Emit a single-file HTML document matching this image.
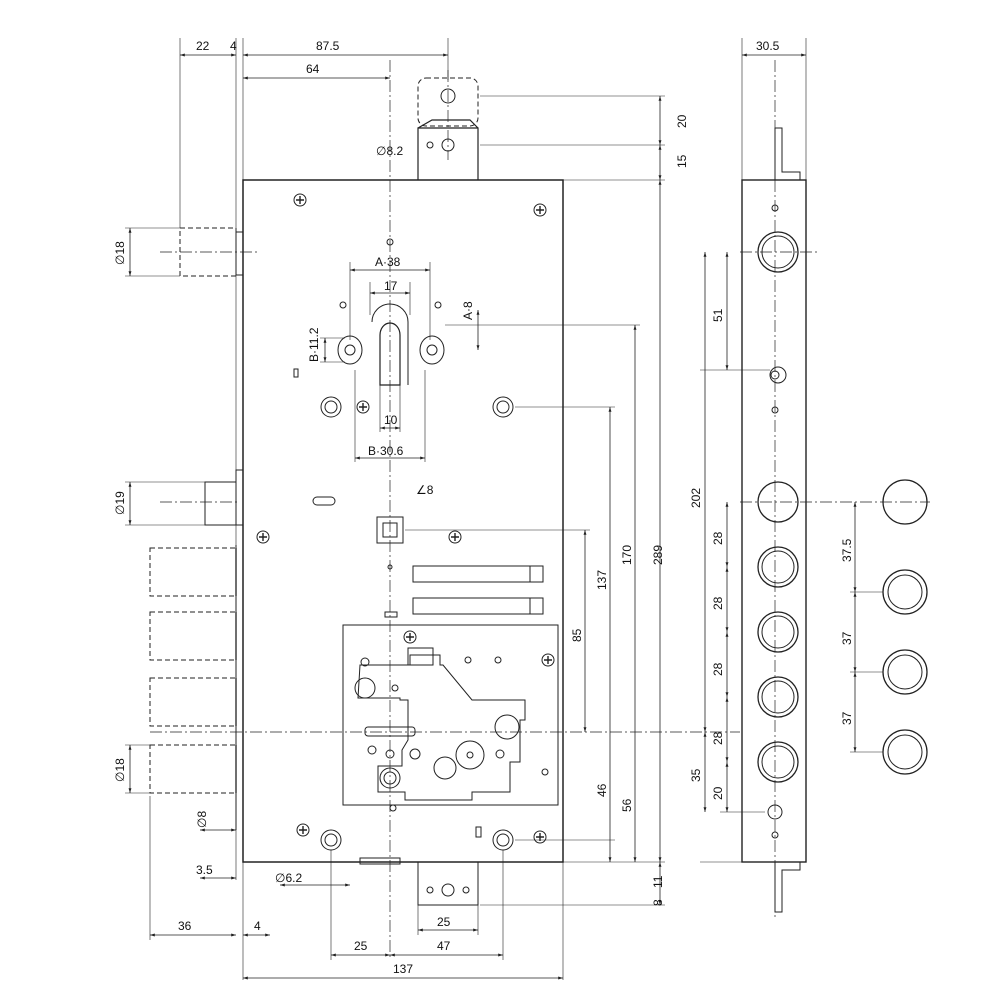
<!DOCTYPE html><html><head><style>body{margin:0;background:#fff}svg{display:block}text{font-family:"Liberation Sans",sans-serif;font-size:12px;fill:#111}</style></head><body>
<svg width="1000" height="1000" viewBox="0 0 1000 1000" xmlns="http://www.w3.org/2000/svg" stroke="#222" fill="none" stroke-width="1">
<defs><marker id="a" viewBox="0 0 10 10" refX="10" refY="5" markerWidth="6" markerHeight="6" orient="auto-start-reverse"><path d="M0,2L10,5L0,8z" fill="#222" stroke="none"/></marker></defs>
<!-- center lines -->
<g stroke-dasharray="12,3,2,3" stroke-width="0.7">
<line x1="390" y1="60" x2="390" y2="960"/><line x1="448" y1="70" x2="448" y2="160"/>
<line x1="150" y1="732" x2="740" y2="732"/><line x1="775" y1="60" x2="775" y2="920"/>
<line x1="160" y1="252" x2="260" y2="252"/><line x1="160" y1="502" x2="240" y2="502"/>
<line x1="740" y1="252" x2="820" y2="252"/><line x1="740" y1="502" x2="930" y2="502"/>
</g>
<!-- main body -->
<rect x="243" y="180" width="320" height="682" stroke-width="1.5"/>
<polyline points="243,180 243,232 236,232 236,275 243,275"/>
<polyline points="243,470 236,470 236,525 243,525"/>
<line x1="236" y1="545" x2="236" y2="830"/>
<path d="M418,180V128H478V180M418,128L432,120H470L478,128" stroke-width="1.2"/>
<rect x="418" y="78" width="60" height="48" stroke-dasharray="5,3" rx="8"/>
<circle cx="448" cy="96" r="7"/><circle cx="448" cy="145" r="6"/><circle cx="430" cy="145" r="3"/>
<path d="M418,862V905H478V862"/><circle cx="448" cy="890" r="6"/><circle cx="430" cy="890" r="3"/><circle cx="466" cy="890" r="3"/>
<rect x="360" y="858" width="40" height="6"/>
<!-- bolts left -->
<rect x="180" y="228" width="56" height="48" stroke-dasharray="5,3"/>
<path d="M236,482H205V525H236"/>
<g stroke-dasharray="5,3"><rect x="150" y="548" width="86" height="48"/><rect x="150" y="612" width="86" height="48"/><rect x="150" y="678" width="86" height="48"/><rect x="150" y="745" width="86" height="48"/></g>
<g stroke-width="1.3"><line x1="236" y1="548" x2="236" y2="596"/><line x1="236" y1="612" x2="236" y2="660"/><line x1="236" y1="678" x2="236" y2="726"/><line x1="236" y1="745" x2="236" y2="793"/></g>
<!-- screws -->
<g><circle cx="300" cy="200" r="6"/><circle cx="540" cy="210" r="6"/><circle cx="263" cy="537" r="6"/><circle cx="455" cy="537" r="6"/><circle cx="363" cy="407" r="6"/><circle cx="410" cy="637" r="6"/><circle cx="303" cy="830" r="6"/><circle cx="540" cy="837" r="6"/><circle cx="548" cy="660" r="6"/></g>
<g stroke-width="1.4"><path d="M296,200h8M300,196v8M536,210h8M540,206v8M259,537h8M263,533v8M451,537h8M455,533v8M359,407h8M363,403v8M406,637h8M410,633v8M299,830h8M303,826v8M536,837h8M540,833v8M544,660h8M548,656v8"/></g>
<circle cx="331" cy="407" r="10"/><circle cx="331" cy="407" r="6"/><circle cx="503" cy="407" r="10"/><circle cx="503" cy="407" r="6"/>
<circle cx="331" cy="840" r="10"/><circle cx="331" cy="840" r="6"/><circle cx="503" cy="840" r="10"/><circle cx="503" cy="840" r="6"/>
<!-- cylinder area -->
<path d="M380,385V335A10,12 0 0 1 400,335V385z" stroke-width="1.2"/>
<path d="M372,322A18,18 0 0 1 408,322V385" /><circle cx="390" cy="242" r="3"/>
<path d="M338,350a12,14 0 1 1 24,0 12,14 0 1 1 -24,0"/><circle cx="350" cy="350" r="5"/>
<path d="M420,350a12,14 0 1 1 24,0 12,14 0 1 1 -24,0"/><circle cx="432" cy="350" r="5"/>
<circle cx="343" cy="305" r="3"/><circle cx="438" cy="305" r="3"/>
<rect x="294" y="369" width="4" height="8"/>
<rect x="313" y="497" width="22" height="8" rx="4"/>
<rect x="377" y="517" width="26" height="26"/><rect x="383" y="523" width="14" height="14"/>
<circle cx="390" cy="567" r="2"/>
<rect x="413" y="566" width="130" height="16"/><rect x="413" y="598" width="130" height="16"/>
<line x1="530" y1="566" x2="530" y2="582"/><line x1="530" y1="598" x2="530" y2="614"/>
<rect x="385" y="612" width="12" height="5"/>
<!-- gearbox -->
<rect x="343" y="625" width="215" height="180"/>
<path d="M360,665H410V655H440V665H443L472,700H525V720H520V762H510V792H472V800H405V792H378V766L402,766V750L408,740V700H400V698H358z"/>
<rect x="408" y="648" width="25" height="17"/>
<circle cx="365" cy="688" r="10"/><circle cx="507" cy="727" r="12"/><circle cx="470" cy="755" r="14"/><circle cx="470" cy="755" r="3"/><circle cx="445" cy="768" r="11"/><circle cx="390" cy="778" r="10"/><circle cx="390" cy="778" r="6"/>
<rect x="365" y="727" width="50" height="9" rx="3"/>
<circle cx="372" cy="750" r="4"/><circle cx="390" cy="754" r="4"/><circle cx="415" cy="754" r="5"/><circle cx="365" cy="662" r="4"/><circle cx="468" cy="660" r="3"/><circle cx="498" cy="660" r="3"/><circle cx="395" cy="688" r="3"/><circle cx="500" cy="754" r="4"/><circle cx="545" cy="772" r="3"/><circle cx="393" cy="808" r="3"/>
<rect x="476" y="827" width="5" height="10"/>
<!-- side view -->
<rect x="742" y="180" width="64" height="682" stroke-width="1.4"/>
<path d="M775,180V128H782V172H800V180"/><path d="M775,862V912H782V870H800V862"/>
<g stroke-width="1.3"><circle cx="778" cy="252" r="20"/><circle cx="778" cy="502" r="20"/><circle cx="778" cy="567" r="20"/><circle cx="778" cy="632" r="20"/><circle cx="778" cy="697" r="20"/><circle cx="778" cy="762" r="20"/></g>
<g><circle cx="778" cy="252" r="16"/><circle cx="778" cy="567" r="16"/><circle cx="778" cy="632" r="16"/><circle cx="778" cy="697" r="16"/><circle cx="778" cy="762" r="16"/></g>
<circle cx="778" cy="375" r="8"/><circle cx="775" cy="375" r="4"/><circle cx="775" cy="208" r="3"/><circle cx="775" cy="410" r="3"/><circle cx="775" cy="812" r="7"/><circle cx="775" cy="835" r="3"/>
<g stroke-width="1.3"><circle cx="905" cy="502" r="22"/><circle cx="905" cy="592" r="22"/><circle cx="905" cy="672" r="22"/><circle cx="905" cy="752" r="22"/></g>
<g><circle cx="905" cy="592" r="17"/><circle cx="905" cy="672" r="17"/><circle cx="905" cy="752" r="17"/></g>
<!-- extension lines -->
<g stroke-width="0.6">
<line x1="180" y1="38" x2="180" y2="228"/><line x1="236" y1="38" x2="236" y2="880"/><line x1="243" y1="38" x2="243" y2="980"/><line x1="448" y1="38" x2="448" y2="80"/>
<line x1="480" y1="96" x2="665" y2="96"/><line x1="480" y1="145" x2="665" y2="145"/><line x1="563" y1="180" x2="665" y2="180"/>
<line x1="125" y1="228" x2="180" y2="228"/><line x1="125" y1="276" x2="180" y2="276"/><line x1="125" y1="482" x2="205" y2="482"/><line x1="125" y1="525" x2="205" y2="525"/>
<line x1="125" y1="745" x2="150" y2="745"/><line x1="125" y1="793" x2="150" y2="793"/>
<line x1="445" y1="325" x2="640" y2="325"/><line x1="515" y1="407" x2="615" y2="407"/><line x1="405" y1="530" x2="590" y2="530"/>
<line x1="563" y1="862" x2="665" y2="862"/><line x1="480" y1="905" x2="665" y2="905"/><line x1="515" y1="840" x2="615" y2="840"/>
<line x1="150" y1="796" x2="150" y2="940"/><line x1="563" y1="862" x2="563" y2="980"/><line x1="331" y1="850" x2="331" y2="960"/><line x1="503" y1="850" x2="503" y2="960"/><line x1="418" y1="905" x2="418" y2="935"/><line x1="478" y1="905" x2="478" y2="935"/>
<line x1="742" y1="38" x2="742" y2="180"/><line x1="806" y1="38" x2="806" y2="180"/>
<line x1="700" y1="862" x2="742" y2="862"/><line x1="720" y1="812" x2="765" y2="812"/><line x1="700" y1="370" x2="770" y2="370"/>
<line x1="850" y1="592" x2="883" y2="592"/><line x1="850" y1="672" x2="883" y2="672"/><line x1="850" y1="752" x2="883" y2="752"/>
<line x1="350" y1="262" x2="350" y2="340"/><line x1="430" y1="262" x2="430" y2="340"/><line x1="370" y1="282" x2="370" y2="315"/><line x1="410" y1="282" x2="410" y2="315"/>
<line x1="355" y1="370" x2="355" y2="462"/><line x1="425" y1="370" x2="425" y2="462"/><line x1="380" y1="385" x2="380" y2="432"/><line x1="400" y1="385" x2="400" y2="432"/>
<line x1="320" y1="338" x2="345" y2="338"/><line x1="320" y1="362" x2="345" y2="362"/>
</g>
<!-- dimension lines -->
<g stroke-width="0.8" marker-start="url(#a)" marker-end="url(#a)">
<line x1="180" y1="55" x2="236" y2="55"/><line x1="243" y1="55" x2="448" y2="55"/><line x1="243" y1="78" x2="390" y2="78"/>
<line x1="660" y1="96" x2="660" y2="145"/><line x1="660" y1="145" x2="660" y2="180"/><line x1="660" y1="180" x2="660" y2="862"/>
<line x1="130" y1="228" x2="130" y2="276"/><line x1="130" y1="482" x2="130" y2="525"/><line x1="130" y1="745" x2="130" y2="793"/>
<line x1="350" y1="270" x2="430" y2="270"/><line x1="370" y1="293" x2="410" y2="293"/><line x1="355" y1="458" x2="425" y2="458"/><line x1="380" y1="428" x2="400" y2="428"/>
<line x1="325" y1="338" x2="325" y2="362"/><line x1="478" y1="310" x2="478" y2="350"/>
<line x1="635" y1="325" x2="635" y2="862"/><line x1="610" y1="407" x2="610" y2="862"/><line x1="585" y1="530" x2="585" y2="732"/>
<line x1="660" y1="862" x2="660" y2="905"/>
<line x1="150" y1="935" x2="236" y2="935"/><line x1="243" y1="935" x2="270" y2="935"/>
<line x1="331" y1="955" x2="390" y2="955"/><line x1="390" y1="955" x2="503" y2="955"/><line x1="418" y1="930" x2="478" y2="930"/><line x1="243" y1="978" x2="563" y2="978"/>
<line x1="742" y1="55" x2="806" y2="55"/>
<line x1="727" y1="252" x2="727" y2="370"/><line x1="705" y1="252" x2="705" y2="732"/><line x1="727" y1="502" x2="727" y2="567"/><line x1="727" y1="567" x2="727" y2="632"/><line x1="727" y1="632" x2="727" y2="697"/><line x1="727" y1="697" x2="727" y2="762"/><line x1="705" y1="732" x2="705" y2="812"/><line x1="727" y1="762" x2="727" y2="812"/>
<line x1="855" y1="502" x2="855" y2="592"/><line x1="855" y1="592" x2="855" y2="672"/><line x1="855" y1="672" x2="855" y2="752"/>
<line x1="200" y1="830" x2="236" y2="830"/><line x1="200" y1="878" x2="236" y2="878"/><line x1="280" y1="885" x2="350" y2="885"/>
</g>
<!-- labels -->
<g stroke="none">
<text x="196" y="50">22</text><text x="230" y="50">4</text><text x="316" y="50">87.5</text><text x="306" y="73">64</text>
<text x="376" y="155">∅8.2</text><text x="375" y="266">A·38</text><text x="384" y="290">17</text><text x="384" y="424">10</text><text x="368" y="455">B·30.6</text><text x="416" y="494">∠8</text>
<text x="196" y="874">3.5</text><text x="275" y="882">∅6.2</text><text x="178" y="930">36</text><text x="254" y="930">4</text><text x="437" y="926">25</text><text x="354" y="950">25</text><text x="437" y="950">47</text><text x="393" y="973">137</text>
<text x="756" y="50">30.5</text>
</g>
<g stroke="none">
<text transform="translate(686,128) rotate(-90)">20</text><text transform="translate(686,168) rotate(-90)">15</text>
<text transform="translate(124,265) rotate(-90)">∅18</text><text transform="translate(124,515) rotate(-90)">∅19</text><text transform="translate(124,782) rotate(-90)">∅18</text><text transform="translate(206,828) rotate(-90)">∅8</text>
<text transform="translate(472,320) rotate(-90)">A·8</text><text transform="translate(318,362) rotate(-90)">B·11.2</text>
<text transform="translate(631,565) rotate(-90)">170</text><text transform="translate(662,565) rotate(-90)">289</text><text transform="translate(606,590) rotate(-90)">137</text><text transform="translate(581,642) rotate(-90)">85</text>
<text transform="translate(606,797) rotate(-90)">46</text><text transform="translate(631,812) rotate(-90)">56</text><text transform="translate(662,888) rotate(-90)">11</text><text transform="translate(662,906) rotate(-90)">8</text>
<text transform="translate(722,322) rotate(-90)">51</text><text transform="translate(700,508) rotate(-90)">202</text>
<text transform="translate(722,545) rotate(-90)">28</text><text transform="translate(722,610) rotate(-90)">28</text><text transform="translate(722,676) rotate(-90)">28</text><text transform="translate(722,745) rotate(-90)">28</text>
<text transform="translate(700,782) rotate(-90)">35</text><text transform="translate(722,800) rotate(-90)">20</text>
<text transform="translate(851,562) rotate(-90)">37.5</text><text transform="translate(851,645) rotate(-90)">37</text><text transform="translate(851,725) rotate(-90)">37</text>
</g>
</svg></body></html>
